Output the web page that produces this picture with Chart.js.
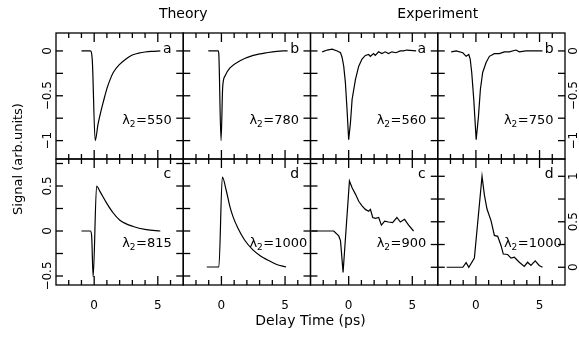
<!DOCTYPE html>
<html>
<head>
<meta charset="utf-8">
<script src="https://cdn.jsdelivr.net/npm/chart.js@4.4.1/dist/chart.umd.min.js"></script>
<style>
  html, body { margin: 0; padding: 0; background: #fff; }
</style>
</head>
<body>
<canvas id="fig" width="579" height="337"></canvas>
<script>
// axis ranges and ticks
const xRange = [-3, 7];
const xMinorTicks = [-2, -1, 0, 1, 2, 3, 4, 5, 6];
const xLabelTicks = [0, 5];
const yTopRange = [-1.205, 0.2];
const yBotLeftRange = [-0.6, 0.8];
const yBotRightRange = [-0.195, 1.19];
const yTopTicks = [0, -0.25, -0.5, -0.75, -1];
const yBotLeftTicks = [0.75, 0.5, 0.25, 0, -0.25, -0.5];
const yBotRightTicks = [1, 0.75, 0.5, 0.25, 0];
const yTopLabels = [0, -0.5, -1];
const yBotLeftLabels = [0.5, 0, -0.5];
const yBotRightLabels = [1, 0.5, 0];

// panel annotations
const topLetters = ['a', 'b', 'a', 'b'];
const bottomLetters = ['c', 'd', 'c', 'd'];
const lambdaTop = [550, 780, 560, 750];
const lambdaBottom = [815, 1000, 900, 1000];

// theory (a) lambda2 = 550
const taX = [-1, -0.3, -0.15, 0.08, 0.3, 0.5, 0.75, 1, 1.25, 1.5, 2, 2.5, 3, 3.5, 4, 4.5, 5.2];
const taY = [0, 0, -0.1, -1, -0.82, -0.69, -0.55, -0.42, -0.32, -0.24, -0.15, -0.09, -0.045, -0.025, -0.012, -0.005, 0];
// theory (b) lambda2 = 780
const tbX = [-1.03, -0.25, -0.2, -0.03, 0.1, 0.28, 0.67, 1.46, 2.5, 3.55, 4.85, 5.2];
const tbY = [0, 0, -0.05, -1, -0.4, -0.28, -0.19, -0.11, -0.05, -0.02, 0, 0];
// theory (c) lambda2 = 815
const tcX = [-1, -0.3, -0.2, -0.08, 0.19, 0.45, 0.98, 1.5, 2.02, 3.07, 4.1, 5.2];
const tcY = [0, 0, -0.05, -0.51, 0.5, 0.44, 0.31, 0.2, 0.12, 0.05, 0.015, 0];
// theory (d) lambda2 = 1000
const tdX = [-1.15, -0.2, 0.07, 0.38, 0.65, 0.91, 1.3, 1.82, 2.47, 3.1, 3.6, 4.3, 5.08];
const tdY = [-0.4, -0.4, 0.6, 0.45, 0.28, 0.16, 0.03, -0.1, -0.21, -0.28, -0.32, -0.37, -0.4];

// experiment (a) lambda2 = 560
const eaX = [-2.08, -1.69, -1.3, -0.9, -0.64, -0.52, -0.39, -0.26, -0.13, 0, 0.14, 0.27, 0.53, 0.79, 1.05, 1.31, 1.57, 1.7, 1.96, 2.09, 2.35, 2.61, 2.87, 3.13, 3.4, 3.71, 4.05, 4.3, 4.57, 5.3];
const eaY = [-0.01, 0.01, 0.02, 0, -0.02, -0.07, -0.17, -0.35, -0.65, -0.99, -0.8, -0.54, -0.32, -0.17, -0.09, -0.05, -0.04, -0.06, -0.03, -0.05, -0.01, -0.03, -0.01, -0.03, -0.01, -0.02, 0, 0, 0.01, 0];
// experiment (b) lambda2 = 750
const ebX = [-1.94, -1.55, -1.03, -0.77, -0.56, -0.45, -0.33, -0.17, 0.02, 0.2, 0.35, 0.53, 0.8, 1.06, 1.45, 1.84, 2.23, 2.62, 3.15, 3.41, 3.93, 4.45, 5.23];
const ebY = [-0.01, 0, -0.02, -0.06, -0.04, -0.09, -0.24, -0.54, -0.99, -0.73, -0.43, -0.24, -0.13, -0.06, -0.03, -0.03, -0.01, -0.01, 0.01, -0.01, 0, 0, 0];
// experiment (c) lambda2 = 900
const ecX = [-2.9, -1.17, -0.78, -0.64, -0.44, 0.06, 0.27, 0.53, 0.79, 1.05, 1.31, 1.57, 1.71, 1.89, 2.1, 2.36, 2.57, 2.83, 3.14, 3.45, 3.79, 4.06, 4.39, 4.71, 5.1];
const ecY = [0, 0, -0.055, -0.11, -0.46, 0.556, 0.48, 0.41, 0.33, 0.28, 0.24, 0.22, 0.24, 0.15, 0.14, 0.15, 0.065, 0.11, 0.1, 0.093, 0.15, 0.1, 0.13, 0.065, 0];
// experiment (d) lambda2 = 1000 (right axis)
const edX = [-2.3, -1.03, -0.77, -0.56, -0.12, 0.48, 0.67, 0.87, 1.19, 1.45, 1.71, 1.97, 2.15, 2.49, 2.76, 3.02, 3.41, 3.8, 4.06, 4.32, 4.66, 4.97, 5.23];
const edY = [0, 0, 0.05, 0, 0.1, 1.0, 0.79, 0.64, 0.51, 0.35, 0.34, 0.24, 0.145, 0.14, 0.1, 0.11, 0.055, 0.01, 0.055, 0.02, 0.07, 0.02, 0];

const FONT = '"DejaVu Sans", sans-serif';
const xIds = ['x1', 'x2', 'x3', 'x4'];

function pts(xs, ys) {
    return xs.map((x, i) => ({ x: x, y: ys[i] }));
}

function curve(xs, ys, xId, yId, smooth) {
    return {
        data: pts(xs, ys),
        xAxisID: xId,
        yAxisID: yId,
        borderColor: '#000',
        borderWidth: 1.2,
        pointRadius: 0,
        fill: false,
        tension: 0,
        cubicInterpolationMode: smooth ? 'monotone' : 'default'
    };
}

function xAxis(weight) {
    return {
        type: 'linear', position: 'bottom', stack: 'cols', weight: weight,
        min: xRange[0], max: xRange[1],
        grid: { display: false }, border: { display: false },
        afterBuildTicks: s => { s.ticks = xLabelTicks.map(v => ({ value: v })); },
        afterFit: s => { s.height = 52; },
        ticks: { color: '#000', font: { family: FONT, size: 12 }, padding: 6, maxRotation: 0 }
    };
}

function yAxis(position, stack, weight, range) {
    return {
        type: 'linear', position: position, stack: stack, weight: weight,
        min: range[0], max: range[1],
        grid: { display: false }, border: { display: false }, ticks: { display: false },
        afterFit: s => { s.width = position === 'left' ? 56 : 14; }
    };
}

function fmt(v) {
    return v < 0 ? '\u2212' + Math.abs(v) : String(v);
}

// frames with inward ticks around each panel
const panelFrame = {
    id: 'panelFrame',
    afterDatasetsDraw(chart) {
        const ctx = chart.ctx, s = chart.scales;
        const rows = [
            { l: s.yTopL, r: s.yTopR, lt: yTopTicks, rt: yTopTicks },
            { l: s.yBotL, r: s.yBotR, lt: yBotLeftTicks, rt: yBotRightTicks }
        ];
        const seg = (x1, y1, x2, y2) => { ctx.beginPath(); ctx.moveTo(x1, y1); ctx.lineTo(x2, y2); ctx.stroke(); };
        ctx.save();
        ctx.strokeStyle = '#000';
        ctx.lineWidth = 1.3;
        rows.forEach(row => {
            const top = row.l.top, bottom = row.l.bottom;
            xIds.forEach((id, c) => {
                const xs = s[id];
                ctx.strokeRect(xs.left, top, xs.right - xs.left, bottom - top);
                xMinorTicks.forEach(v => {
                    const px = xs.getPixelForValue(v);
                    const len = xLabelTicks.includes(v) ? 9 : 5;
                    seg(px, top, px, top + len);
                    seg(px, bottom, px, bottom - len);
                });
                const ls = c < 3 ? row.l : row.r, lt = c < 3 ? row.lt : row.rt;
                const rs = c < 2 ? row.l : row.r, rt = c < 2 ? row.lt : row.rt;
                lt.forEach(v => { const py = ls.getPixelForValue(v); seg(xs.left, py, xs.left + 7, py); });
                rt.forEach(v => { const py = rs.getPixelForValue(v); seg(xs.right, py, xs.right - 7, py); });
            });
        });
        ctx.restore();
    },
    afterDraw(chart) {
        const ctx = chart.ctx, s = chart.scales, area = chart.chartArea;
        ctx.save();
        ctx.fillStyle = '#000';

        // rotated y tick labels
        const vlabel = (text, x, y, size) => {
            ctx.save();
            ctx.translate(x, y);
            ctx.rotate(-Math.PI / 2);
            ctx.font = size + 'px ' + FONT;
            ctx.textAlign = 'center';
            ctx.textBaseline = 'middle';
            ctx.fillText(text, 0, 0);
            ctx.restore();
        };
        yTopLabels.forEach(v => {
            vlabel(fmt(v), 48, s.yTopL.getPixelForValue(v), 12);
            vlabel(fmt(v), 574, s.yTopR.getPixelForValue(v), 12);
        });
        yBotLeftLabels.forEach(v => vlabel(fmt(v), 48, s.yBotL.getPixelForValue(v), 12));
        yBotRightLabels.forEach(v => vlabel(fmt(v), 574, s.yBotR.getPixelForValue(v), 12));

        // titles
        vlabel('Signal (arb.units)', 19, (area.top + area.bottom) / 2, 13);
        ctx.font = '14px ' + FONT;
        ctx.textAlign = 'center';
        ctx.textBaseline = 'alphabetic';
        ctx.fillText('Delay Time (ps)', (area.left + area.right) / 2, 325);
        ctx.fillText('Theory', s.x1.right, 18);
        ctx.fillText('Experiment', s.x3.right, 18);

        // panel letters
        ctx.font = '14px ' + FONT;
        xIds.forEach((id, c) => {
            const px = s[id].getPixelForValue(5.75);
            ctx.fillText(topLetters[c], px, s.yTopL.getPixelForValue(0) + 2);
            ctx.fillText(bottomLetters[c], px, s.yBotL.getPixelForValue(0.59));
        });

        // lambda annotations
        const lambda = (x, y, value) => {
            ctx.textAlign = 'left';
            ctx.font = '13px ' + FONT;
            ctx.fillText('\u03bb', x, y);
            let w = ctx.measureText('\u03bb').width;
            ctx.font = '9px ' + FONT;
            ctx.fillText('2', x + w, y + 3);
            w += ctx.measureText('2').width + 0.5;
            ctx.font = '13px ' + FONT;
            ctx.fillText('=' + value, x + w, y);
        };
        xIds.forEach((id, c) => {
            const px = s[id].getPixelForValue(2.2);
            lambda(px, s.yTopL.getPixelForValue(-0.81), lambdaTop[c]);
            lambda(px, s.yBotL.getPixelForValue(-0.18), lambdaBottom[c]);
        });
        ctx.restore();
    }
};

new Chart(document.getElementById('fig'), {
    type: 'line',
    data: {
        datasets: [
            curve(taX, taY, 'x1', 'yTopL', true),
            curve(tbX, tbY, 'x2', 'yTopL', true),
            curve(eaX, eaY, 'x3', 'yTopL', false),
            curve(ebX, ebY, 'x4', 'yTopL', false),
            curve(tcX, tcY, 'x1', 'yBotL', true),
            curve(tdX, tdY, 'x2', 'yBotL', true),
            curve(ecX, ecY, 'x3', 'yBotL', false),
            curve(edX, edY, 'x4', 'yBotR', false)
        ]
    },
    options: {
        responsive: false,
        animation: false,
        layout: { padding: { top: 33, left: 0, right: 0, bottom: 0 } },
        plugins: { legend: { display: false }, tooltip: { enabled: false } },
        scales: {
            x1: xAxis(0), x2: xAxis(0), x3: xAxis(0), x4: xAxis(0),
            yTopL: yAxis('left', 'rowsL', 1, yTopRange),
            yBotL: yAxis('left', 'rowsL', 0, yBotLeftRange),
            yTopR: yAxis('right', 'rowsR', 0, yTopRange),
            yBotR: yAxis('right', 'rowsR', 1, yBotRightRange)
        }
    },
    plugins: [panelFrame]
});
</script>
</body>
</html>
